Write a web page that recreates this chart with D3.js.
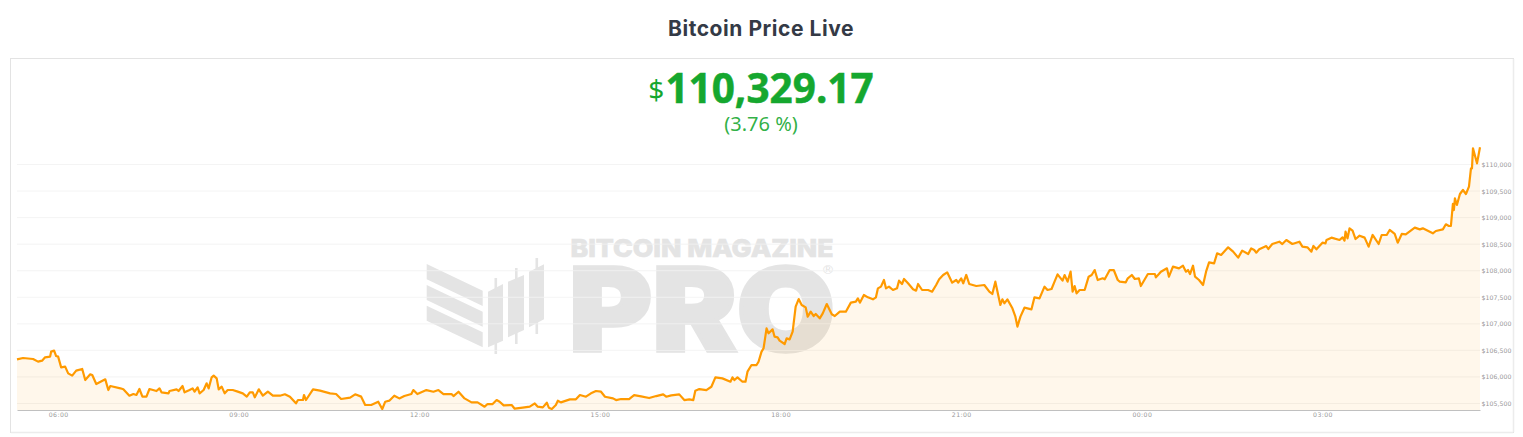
<!DOCTYPE html>
<html><head><meta charset="utf-8">
<script src="https://cdn.jsdelivr.net/npm/d3@7/dist/d3.min.js"></script>
<style>html,body{margin:0;padding:0;background:#fff;overflow:hidden}svg{display:block}</style>
</head><body><svg id="c" width="1523" height="437"></svg>
<script>
const chartTitle="Bitcoin Price Live";
const priceMain="110,329.17";
const priceChange="(3.76 %)";
const minutes=[319,325,335,340,344,347,352,353,356,358,360,363,367,370,374,378,384,387,392,394,398,407,410,412,422,425,431,435,438,441,444,448,451,458,461,463,470,471,478,480,484,486,491,494,496,499,501,505,508,510,513,515,518,520,523,526,529,534,539,544,548,551,554,556,560,564,569,574,581,586,591,597,599,604,605,607,614,621,631,637,642,651,656,662,666,672,679,683,686,690,695,700,
705,712,714,718,727,734,739,744,752,754,759,765,772,778,785,788,793,797,800,804,812,815,823,830,835,838,843,847,849,852,856,858,861,870,876,880,886,891,896,901,905,913,916,921,929,934,941,949,956,963,966,971,979,984,989,993,995,999,1006,1011,1015,1022,1030,1032,1034,1037,1042,1045,1047,
1051,1056,1058,1061,1063,1066,1068,1072,1074,1077,1079,1084,1086,1089,1092,1095,1098,1101,1105,1107,1110,1113,1115,1119,1122,1126,1131,1134,1139,1145,1150,1155,1157,1159,1163,1167,1172,1175,1177,1180,1183,1185,1188,1192,1196,1198,1201,1203,1207,1212,1215,1217,1221,1227,1231,1235,1238,1242,1246,1251,1255,1257,1260,1262,1265,1268,1275,1283,1288,1291,1294,1299,1301,1303,1306,1311,1314,1316,1319,1323,1326,1330,1333,1338,
1343,1346,1350,1353,1356,1361,1363,1366,1369,1371,1373,1375,1378,1383,1387,1390,1393,1396,1401,1403,1408,1412,1416,1418,1424,1426,1430,1433,1437,1439,1446,1453,1454,1457,1459,1465,1467,1471,1477,1481,1484,1486,1488,1491,1493,1497,1501,1504,1507,1512,1515,1519,1526,1531,1536,1540,1546,1549,1552,1554,1557,1564,1566,1570,1577,1580,1584,1590,1597,
1600,1605,1609,1611,1614,1620,1623,1624,1629,1637,1640,1642,1643,1645,1647,1650,1653,1657,1662,1666,1670,1676,1679,1684,1687,1692,1695,1699,1703,1712,1717,1720,1730,1733,1740,1743,1746,1748,1750,1751,1752,1754,1757,1760,1763,1766,1768,1769,1770,1774,1777];
const prices=[106332,106357,106338,106288,106307,106369,106382,106476,106495,106394,106382,106181,106194,106068,106024,106118,106150,105942,106049,106037,105867,105955,105754,105829,105786,105767,105647,105679,105660,105773,105629,105629,105773,105735,105785,105710,105691,105735,105767,105735,105829,105710,105754,105785,105723,105804,105691,105754,105880,105785,105993,106024,105974,105767,105817,105691,105754,105754,105723,105691,105629,105710,105710,105616,105767,105647,105723,105647,105647,105673,105629,105503,105566,105566,105660,105566,105767,105742,105691,105679,105585,105610,105673,105629,105472,105472,105534,105396,105534,105553,105647,105596,
105640,105678,105753,105678,105753,105722,105753,105678,105678,105640,105722,105596,105521,105521,105440,105490,105490,105565,105534,105465,105471,105402,105421,105440,105502,105440,105427,105515,105421,105396,105471,105552,105521,105578,105578,105659,105628,105691,105735,105722,105628,105596,105565,105584,105584,105659,105634,105603,105640,105672,105628,105653,105672,105565,105578,105565,105741,105772,105753,105816,105992,105973,105910,105992,105942,105992,105910,105910,106099,
106224,106224,106287,106476,106538,106915,106821,106896,106758,106745,106683,106620,106727,106708,106852,107323,107467,107354,107310,107135,107229,107147,107185,107103,107197,107373,107179,107147,107229,107229,107399,107417,107480,107399,107543,107499,107461,107499,107668,107700,107825,107668,107700,107637,107668,107813,107750,107844,107763,107650,107625,107750,107637,107637,107606,107731,107838,107920,107970,107775,107825,107775,107857,107763,107920,107750,107712,107731,107606,107562,107794,107355,107461,107386,107461,107292,107135,106947,107135,107304,107292,107273,107499,107480,
107700,107637,107656,107794,107932,107813,107919,107794,107982,107605,107712,107574,107637,107637,107888,107919,108013,107825,107857,107838,108013,108013,107825,107794,107781,107857,107919,107844,107857,107712,107938,107938,107875,107938,107982,108045,107888,108076,108045,108095,107982,108013,107938,108095,107888,107825,107731,107982,108158,108139,108327,108296,108440,108359,108246,108378,108315,108421,108390,108340,108403,108465,108409,108503,108547,108503,108578,108503,108547,
108453,108440,108359,108466,108403,108528,108516,108579,108623,108579,108629,108566,108736,108610,108798,108754,108597,108660,108623,108453,108673,108503,108673,108673,108767,108692,108528,108692,108685,108811,108779,108798,108704,108748,108779,108874,108842,108842,109257,109143,109363,109238,109445,109520,109445,109583,109928,109928,110305,110022,110324];
const priceTicks=[105500,106000,106500,107000,107500,108000,108500,109000,109500,110000];
const timeTicks=[360,540,720,900,1080,1260,1440,1620];
const timeLabels=["06:00","09:00","12:00","15:00","18:00","21:00","00:00","03:00"];

const svg=d3.select("#c");
const green="#15a72f";
const x=d3.scaleLinear().domain([319,1777]).range([17,1480]);
const y=d3.scaleLinear().domain([105500,110000]).range([403.5,164.5]);
const base=410;

svg.append("text").attr("x",761).attr("y",36).attr("text-anchor","middle")
  .attr("font-family","Inter").attr("font-weight",700).attr("font-size",21).attr("letter-spacing",.55).attr("fill","#343a46").text(chartTitle);
svg.append("rect").attr("x",10.5).attr("y",58.5).attr("width",1503).attr("height",374)
  .attr("fill","#fff").attr("stroke","#e3e3e3").attr("stroke-width",1);
svg.append("path").attr("d","M11 432.5H1513M1513.5 59V432").attr("stroke","#ececec").attr("stroke-width",1.5).attr("fill","none");

const t=svg.append("text").attr("x",761).attr("y",103).attr("text-anchor","middle")
  .attr("font-family","Noto Sans").attr("fill",green);
t.append("tspan").attr("font-size",28).attr("dy",-3).text("$");
t.append("tspan").attr("font-size",40.5).attr("font-weight",700).attr("dy",3).attr("dx",1).attr("stroke",green).attr("stroke-width",.5).text(priceMain);
svg.append("text").attr("x",761).attr("y",131).attr("text-anchor","middle").attr("font-family","Noto Sans")
  .attr("font-size",20).attr("fill",green).attr("fill-opacity",.9).text(priceChange);

// watermark
const wm=svg.append("g").attr("fill","#e4e4e4");
[[264,290.7,279.3,306],[285,311.7,300,326.7],[305.7,332.3,320.7,347.3]].forEach(s=>{
  wm.append("polygon").attr("points",`426.7,${s[0]} 482.7,${s[1]} 482.7,${s[3]} 426.7,${s[2]}`);
});
[[488,503,291.7,284,347.3,340.7,494.5,278,354],[508,524,281.7,275,337.3,330,515,268,344],[529,544,271.7,264.3,327.3,319.3,535.5,258,334]].forEach(c=>{
  wm.append("polygon").attr("points",`${c[0]},${c[2]} ${c[1]},${c[3]} ${c[1]},${c[5]} ${c[0]},${c[4]}`);
  wm.append("rect").attr("x",c[6]).attr("y",c[7]).attr("width",2.6).attr("height",c[8]-c[7]);
});
wm.append("text").attr("x",570.5).attr("y",257).attr("font-family","Inter").attr("font-weight",800).attr("font-size",25)
  .attr("stroke","#e4e4e4").attr("stroke-width",.7)
  .attr("textLength",263).attr("lengthAdjust","spacingAndGlyphs").text("BITCOIN MAGAZINE");
wm.append("text").attr("x",569).attr("y",350.5).attr("font-family","Inter").attr("font-weight",900).attr("font-size",115)
  .attr("stroke","#e4e4e4").attr("stroke-width",3.5).attr("stroke-linejoin","miter")
  .attr("textLength",266).attr("lengthAdjust","spacingAndGlyphs").text("PRO");
wm.append("text").attr("x",828).attr("y",273.5).attr("text-anchor","middle").attr("font-family","DejaVu Sans").attr("font-size",13).text("®");

// grid
svg.append("g").selectAll("line").data(priceTicks).join("line")
  .attr("x1",17).attr("x2",1480).attr("y1",d=>y(d)).attr("y2",d=>y(d))
  .attr("stroke","#f2f2f2").attr("stroke-opacity",.85).attr("stroke-width",1);

const pts=minutes.map((m,i)=>[m,prices[i]]);
svg.append("path").datum(pts).attr("fill","#ff9800").attr("fill-opacity",.08)
  .attr("d",d3.area().x(d=>x(d[0])).y0(base).y1(d=>y(d[1])));
svg.append("path").datum(pts).attr("fill","none").attr("stroke","#ff9a00").attr("stroke-width",2.2).attr("stroke-linejoin","round")
  .attr("d",d3.line().x(d=>x(d[0])).y(d=>y(d[1])));

// axes
const ax=svg.append("g").attr("transform",`translate(0,${base})`)
  .call(d3.axisBottom(x).tickValues(timeTicks).tickFormat((d,i)=>timeLabels[i]).tickSize(0).tickPadding(3));
ax.select(".domain").attr("stroke","#c0c0c0").attr("stroke-width",1);
ax.selectAll("text").attr("font-family","DejaVu Sans").attr("font-size",6.2).attr("letter-spacing",.4).attr("fill","#999");
const ay=svg.append("g").attr("transform","translate(1481.5,0)")
  .call(d3.axisRight(y).tickValues(priceTicks).tickFormat(d=>"$"+d3.format(",")(d)).tickSize(0).tickPadding(0));
ay.select(".domain").remove();
ay.selectAll("text").attr("font-family","DejaVu Sans").attr("font-size",6.2).attr("letter-spacing",.05).attr("fill","#999");
</script></body></html>
